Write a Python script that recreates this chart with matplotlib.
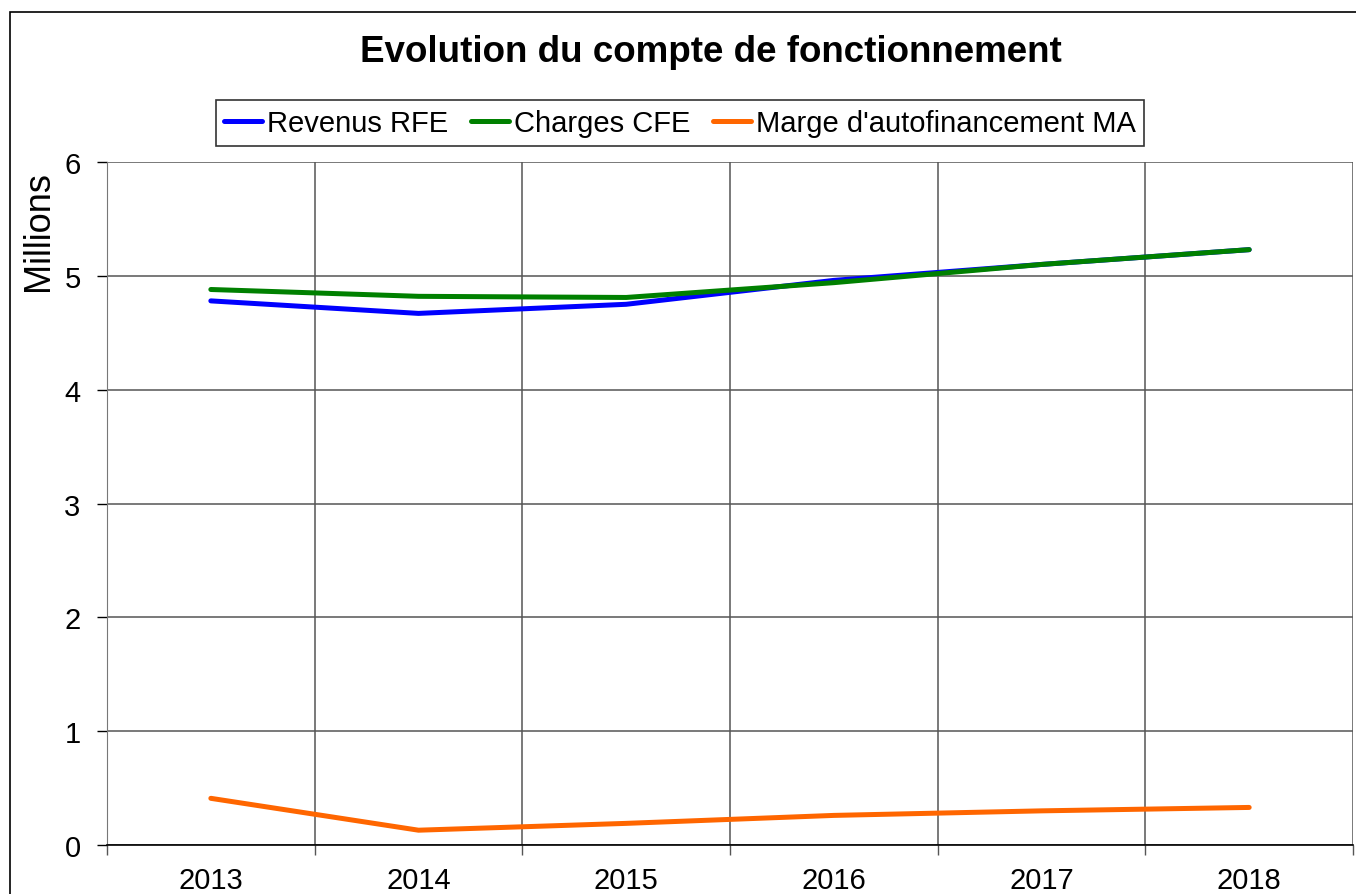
import matplotlib.pyplot as plt
import matplotlib.patches as patches
import numpy as np

plt.rcParams['font.family'] = ['Liberation Sans', 'DejaVu Sans']

years = ['2013', '2014', '2015', '2016', '2017', '2018']
revenus = [4.78, 4.67, 4.75, 4.96, 5.10, 5.23]
charges = [4.88, 4.82, 4.81, 4.94, 5.10, 5.23]
marge = [0.41, 0.13, 0.19, 0.26, 0.30, 0.33]

fig = plt.figure(figsize=(13.56, 8.95), dpi=100)
ax = fig.add_axes([107/1356, 1 - 846/895, (1353 - 107)/1356, (846 - 163)/895])

x = np.arange(len(years))
l1, = ax.plot(x, revenus, color='#0000FF', lw=3.6, solid_capstyle='round', label='Revenus RFE')
l2, = ax.plot(x, charges, color='#008000', lw=3.6, solid_capstyle='round', label='Charges CFE')
l3, = ax.plot(x, marge, color='#FF6600', lw=3.6, solid_capstyle='round', label="Marge d'autofinancement MA")

ax.set_xlim(-0.5, len(years) - 0.5)
ax.set_ylim(0, 6)
ax.set_xticks(x)
ax.set_xticklabels(years)
ax.set_xticks(np.arange(len(years) + 1) - 0.5, minor=True)
ax.set_yticks(np.arange(0, 7, 1))
ax.tick_params(axis='x', which='major', length=0, labelsize=21, pad=15)
ax.tick_params(axis='x', which='minor', length=7, width=1, color='#555555', direction='out')
ax.tick_params(axis='y', length=7, width=1, labelsize=21, pad=12, color='black')
ax.grid(True, axis='y', color='#555555', lw=1.1)
ax.grid(True, axis='x', which='minor', color='#555555', lw=1.1)
ax.set_axisbelow(True)
for s in ['top', 'right']:
    ax.spines[s].set_visible(False)
ax.spines['left'].set_color('#777777')
ax.spines['bottom'].set_color('black')
ax.spines['bottom'].set_linewidth(1.2)
ax.set_ylabel('Millions', fontsize=26)
ax.yaxis.set_label_coords(-0.041, 0.90)

fig.text(711/1356, 1 - 53/895, 'Evolution du compte de fonctionnement',
         fontsize=26.5, fontweight='bold', ha='center', va='center')

leg = fig.legend(handles=[l1, l2, l3], loc='center', bbox_to_anchor=(680/1356, 1 - 124/895),
                 ncol=3, fontsize=21, frameon=True, fancybox=False, handlelength=1.3,
                 handletextpad=0.15, columnspacing=0.8, borderpad=0.3)
leg.get_frame().set_edgecolor('black')
leg.get_frame().set_linewidth(1.2)

border = patches.Rectangle((10/1356, -0.1), 1.2, 1 - 13/895 + 0.1, transform=fig.transFigure,
                           fill=False, edgecolor='black', lw=1.2)
fig.patches.append(border)

fig.savefig('out.png', dpi=100)
